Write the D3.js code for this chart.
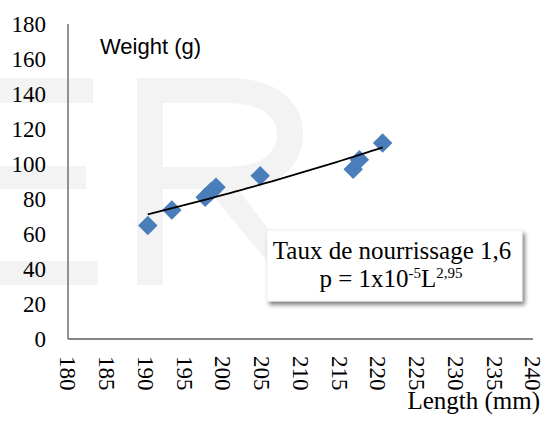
<!DOCTYPE html>
<html>
<head>
<meta charset="utf-8">
<script src="https://cdn.jsdelivr.net/npm/d3@7"></script>
<style>
  html, body { margin: 0; padding: 0; background: #fff; }
  svg { display: block; }
  .serif { font-family: "Liberation Serif", "Times New Roman", Times, "DejaVu Serif", serif; }
  .sans { font-family: "Liberation Sans", Arial, sans-serif; }
</style>
</head>
<body>
<svg id="chart" width="546" height="422"></svg>
<script>
// Fish length (mm) and weight (g) measurements
const lengths = [190.3, 193.4, 197.7, 198.4, 199.1, 204.8, 216.8, 217.6, 220.6];
const weights = [64.8, 73.7, 81.0, 84.0, 86.7, 93.3, 97.0, 102.5, 112.0];

const xTicks = [180, 185, 190, 195, 200, 205, 210, 215, 220, 225, 230, 235, 240];
const yTicks = [0, 20, 40, 60, 80, 100, 120, 140, 160, 180];

const yTitle = "Weight (g)";
const xTitle = "Length (mm)";
const noteLine1 = "Taux de nourrissage 1,6";

const svg = d3.select("#chart");

const x = d3.scaleLinear().domain([180, 240]).range([68, 533]);
const y = d3.scaleLinear().domain([0, 180]).range([339, 24]);

// faint background lettering
const wm = svg.append("g").attr("fill", "#f3f3f3");
wm.append("rect").attr("x", 0).attr("y", 78).attr("width", 93).attr("height", 25);
wm.append("rect").attr("x", 0).attr("y", 166).attr("width", 86).attr("height", 23);
wm.append("rect").attr("x", 0).attr("y", 261).attr("width", 98).attr("height", 24);
wm.append("rect").attr("x", 137).attr("y", 78).attr("width", 26).attr("height", 207);
wm.append("path").attr("fill-rule", "evenodd")
  .attr("d", "M163,78 L228,78 C276,78 303,101 303,134 C303,168 276,189 232,189 L163,189 Z " +
             "M163,103 L226,103 C260,103 277,115 277,134 C277,155 259,167 226,167 L163,167 Z");
wm.append("path")
  .attr("d", "M208,189 L238,189 C262,222 290,258 318,285 L287,285 C262,255 234,222 208,189 Z");

// axis lines
svg.append("line").attr("x1", x(180)).attr("x2", x(180)).attr("y1", y(180)).attr("y2", y(0))
  .attr("stroke", "#868686").attr("stroke-width", 1.8);
svg.append("line").attr("x1", x(180)).attr("x2", x(240)).attr("y1", y(0)).attr("y2", y(0))
  .attr("stroke", "#868686").attr("stroke-width", 1.8);

// y tick labels
svg.append("g").selectAll("text").data(yTicks).join("text")
  .attr("class", "serif")
  .attr("x", 46).attr("y", d => y(d)).attr("dy", "0.35em")
  .attr("text-anchor", "end")
  .attr("font-size", 23).attr("fill", "#000")
  .text(d => d);

// x tick labels, rotated
svg.append("g").selectAll("text").data(xTicks).join("text")
  .attr("class", "serif")
  .attr("transform", d => `translate(${x(d)},356) rotate(90)`)
  .attr("dy", "0.33em")
  .attr("text-anchor", "start")
  .attr("font-size", 23).attr("fill", "#000")
  .text(d => d);

// axis titles
svg.append("text").attr("class", "sans").attr("x", 100).attr("y", 54)
  .attr("font-size", 22).attr("fill", "#000").text(yTitle);
svg.append("text").attr("class", "serif").attr("x", 540).attr("y", 409).attr("text-anchor", "end")
  .attr("font-size", 25).attr("fill", "#000").text(xTitle);

// power trendline fitted on log-log values
const lx = lengths.map(Math.log), ly = weights.map(Math.log);
const mx = d3.mean(lx), my = d3.mean(ly);
const b = d3.sum(lx, (v, i) => (v - mx) * (ly[i] - my)) / d3.sum(lx, v => (v - mx) * (v - mx));
const a = Math.exp(my - b * mx);
const [lmin, lmax] = d3.extent(lengths);
const trend = d3.range(0, 41).map(i => {
  const L = lmin + (lmax - lmin) * i / 40;
  return [L, a * Math.pow(L, b)];
});

// data markers (diamonds)
const diamond = d3.symbol().type(d3.symbolSquare).size(190);
svg.append("g").selectAll("path").data(lengths).join("path")
  .attr("d", diamond)
  .attr("transform", (d, i) => `translate(${x(d)},${y(weights[i])}) rotate(45)`)
  .attr("fill", "#4a7ebb");

svg.append("path").datum(trend)
  .attr("d", d3.line().x(d => x(d[0])).y(d => y(d[1])))
  .attr("fill", "none").attr("stroke", "#000").attr("stroke-width", 1.8);

// annotation box with soft shadow
const defs = svg.append("defs");
const f = defs.append("filter").attr("id", "shadow")
  .attr("x", "-10%").attr("y", "-20%").attr("width", "125%").attr("height", "150%");
f.append("feDropShadow").attr("dx", 2.5).attr("dy", 3.5).attr("stdDeviation", 2.2)
  .attr("flood-color", "#000").attr("flood-opacity", 0.5);

svg.append("rect").attr("x", 267).attr("y", 230).attr("width", 255).attr("height", 71)
  .attr("fill", "#fff").attr("stroke", "#ececec").attr("stroke-width", 0.8)
  .attr("filter", "url(#shadow)");

svg.append("text").attr("class", "serif").attr("x", 392).attr("y", 259).attr("text-anchor", "middle")
  .attr("font-size", 25).attr("fill", "#000").text(noteLine1);

const eq = svg.append("text").attr("class", "serif").attr("x", 391).attr("y", 287)
  .attr("text-anchor", "middle").attr("font-size", 25).attr("fill", "#000");
eq.append("tspan").text("p = 1x10");
eq.append("tspan").attr("font-size", 15).attr("dy", -9).text("-5");
eq.append("tspan").attr("dy", 9).text("L");
eq.append("tspan").attr("font-size", 15).attr("dy", -9).text("2,95");
</script>
</body>
</html>
